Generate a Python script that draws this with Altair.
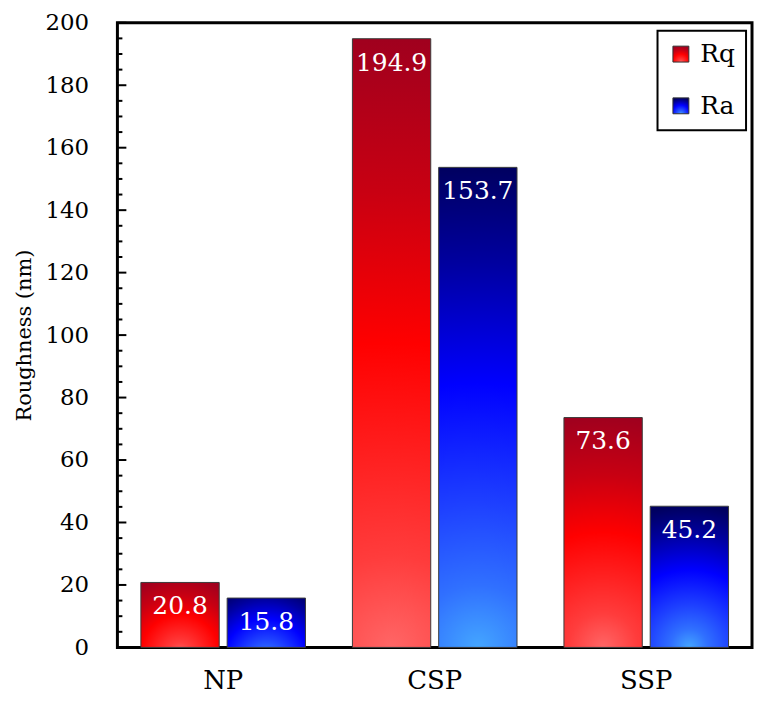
import altair as alt
import pandas as pd

GROUPS = ["NP", "CSP", "SSP"]
SERIES = ["Rq", "Ra"]
RQ = [20.8, 194.9, 73.6]
RA = [15.8, 153.7, 45.2]
MAJOR_TICKS = [0, 20, 40, 60, 80, 100, 120, 140, 160, 180, 200]
MINOR_TICKS = [v for v in range(5, 200, 5) if v % 20 != 0]

RED_STOPS = [(0, "#ff6666"), (0.15, "#ff3c3c"), (0.3, "#ff2222"), (0.5, "#ff0000"),
             (0.75, "#c80012"), (1, "#a0001e")]
BLUE_STOPS = [(0, "#44a6ff"), (0.13, "#3070ff"), (0.3, "#1e40ff"), (0.55, "#0000ff"),
              (0.8, "#0000a0"), (1, "#000060")]

rows = []
for g, q, a in zip(GROUPS, RQ, RA):
    rows.append({"group": g, "series": "Rq", "value": q})
    rows.append({"group": g, "series": "Ra", "value": a})
df = pd.DataFrame(rows)


def grad_expr(stops):
    s = ", ".join("{offset: %s, color: '%s'}" % (o, c) for o, c in stops)
    return ("{gradient: 'radial', x1: 0.5, y1: 1, r1: 0, x2: 0.5, y2: 1, r2: 1, stops: [%s]}" % s)


FONT = "DejaVu Serif"
yscale = alt.Scale(domain=[0, 200], nice=False, zero=True)


def y_axis():
    return alt.Axis(title="Roughness (nm)", domain=False, ticks=False, tickSize=0,
                    grid=False, values=MAJOR_TICKS, labelPadding=29,
                    labelFontSize=23, labelFont=FONT, labelColor="black",
                    titleFont=FONT, titleFontSize=21, titleFontWeight="normal",
                    titleColor="black", titlePadding=10)


x_enc = alt.X("group:N", sort=GROUPS,
              scale=alt.Scale(paddingInner=0, paddingOuter=0),
              axis=alt.Axis(title=None, domain=False, ticks=False, tickSize=0,
                            labelPadding=20, labelFontSize=26, labelAngle=0,
                            labelBaseline="top", labelFont=FONT, labelColor="black"))
xoff_enc = alt.XOffset("series:N", sort=SERIES,
                       scale=alt.Scale(paddingInner=0.092, paddingOuter=0.272))

base = alt.Chart(df)

bars = base.mark_bar(stroke="#3a3a3a", strokeWidth=1).encode(
    x=x_enc,
    xOffset=xoff_enc,
    y=alt.Y("value:Q", scale=yscale, axis=y_axis()),
    color=alt.Color("series:N", sort=SERIES,
                    scale=alt.Scale(domain=SERIES,
                                    range=[alt.ExprRef(expr=grad_expr(RED_STOPS)),
                                           alt.ExprRef(expr=grad_expr(BLUE_STOPS))]),
                    legend=alt.Legend(title=None, orient="none", legendX=543, legendY=8,
                                      direction="vertical", strokeColor="black",
                                      fillColor="white", padding=11, rowPadding=26,
                                      symbolType="square", symbolSize=256,
                                      symbolStrokeColor="#333333", symbolStrokeWidth=1,
                                      labelFont=FONT, labelFontSize=25, labelColor="black",
                                      labelOffset=7, cornerRadius=0)),
)

labels = base.mark_text(color="white", font=FONT, fontSize=25, baseline="alphabetic",
                        dy=32, align="center").encode(
    x=x_enc,
    xOffset=xoff_enc,
    y=alt.Y("value:Q", scale=yscale, axis=y_axis()),
    text=alt.Text("value:Q", format=".1f"),
)

major = alt.Chart(pd.DataFrame({"value": MAJOR_TICKS})).mark_rule(
    color="black", strokeWidth=2).encode(
    y=alt.Y("value:Q", scale=yscale, axis=y_axis()),
    x=alt.value(0), x2=alt.value(9))

minor = alt.Chart(pd.DataFrame({"value": MINOR_TICKS})).mark_rule(
    color="black", strokeWidth=2).encode(
    y=alt.Y("value:Q", scale=yscale, axis=y_axis()),
    x=alt.value(0), x2=alt.value(5))

chart = alt.layer(bars, labels, minor, major).properties(
    width=638, height=628,
    autosize=alt.AutoSizeParams(type="none"),
    padding={"left": 110, "top": 13, "right": 2, "bottom": 48},
).configure_view(stroke="black", strokeWidth=3).configure_legend(strokeWidth=2)

chart.save("out.html", embed_options={"renderer": "svg", "actions": False})
